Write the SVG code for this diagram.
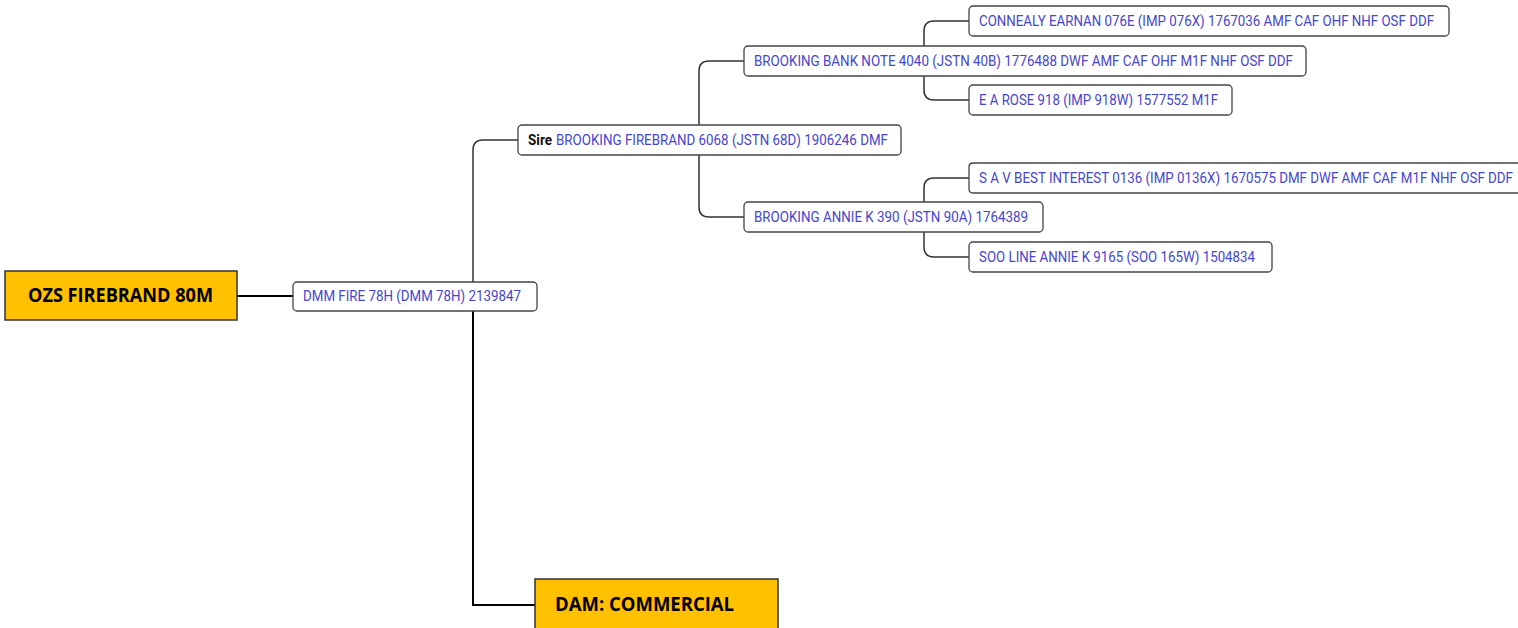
<svg xmlns="http://www.w3.org/2000/svg" width="1518" height="628" viewBox="0 0 1518 628">
<style>
.box{fill:#ffffff;stroke:#444444;stroke-width:1.3}
.hi{fill:#ffc000;stroke:#333333;stroke-width:1.5}
.t{font-family:Roboto,"Liberation Sans",sans-serif;font-size:14.5px;fill:#4646cc}
.b{font-family:"Open Sans","Liberation Sans",sans-serif;font-size:19px;font-weight:bold;fill:#000000}
.sire{font-family:Roboto,"Liberation Sans",sans-serif;font-size:14.5px;font-weight:bold;fill:#111111}
.c{fill:none;stroke:#333333;stroke-width:1.5}
.k{fill:none;stroke:#000000;stroke-width:2}
</style>
<rect x="0" y="0" width="1518" height="628" fill="#ffffff"/>
<g id="connectors">
<path class="k" d="M237,296 H293"/>
<path class="c" d="M473,282 V150 Q473,140 483,140 H518"/>
<path class="k" d="M473,311 V605 H535"/>
<path class="c" d="M699,125 V71 Q699,61 709,61 H744"/>
<path class="c" d="M699,155 V207 Q699,217 709,217 H744"/>
<path class="c" d="M924,46 V31 Q924,21 934,21 H969"/>
<path class="c" d="M924,76 V90 Q924,100 934,100 H969"/>
<path class="c" d="M924,202 V188 Q924,178 934,178 H969"/>
<path class="c" d="M924,232 V247 Q924,257 934,257 H969"/>
</g>
<g id="ozs">
<rect class="hi" x="5" y="271" width="232" height="49"/>
<text class="b" x="28" y="302" textLength="185" lengthAdjust="spacingAndGlyphs">OZS FIREBRAND 80M</text>
</g>
<g id="dmm">
<rect class="box" x="293" y="282" width="244" height="29" rx="4"/>
<text class="t" x="303" y="301" textLength="218" lengthAdjust="spacingAndGlyphs">DMM FIRE 78H (DMM 78H) 2139847</text>
</g>
<g id="sire">
<rect class="box" x="518" y="125" width="383" height="30" rx="4"/>
<text class="sire" x="528" y="144.5" textLength="24" lengthAdjust="spacingAndGlyphs">Sire</text>
<text class="t" x="556" y="144.5" textLength="332" lengthAdjust="spacingAndGlyphs">BROOKING FIREBRAND 6068 (JSTN 68D) 1906246 DMF</text>
</g>
<g id="banknote">
<rect class="box" x="744" y="46" width="562" height="30" rx="4"/>
<text class="t" x="754" y="65.5" textLength="539" lengthAdjust="spacingAndGlyphs">BROOKING BANK NOTE 4040 (JSTN 40B) 1776488 DWF AMF CAF OHF M1F NHF OSF DDF</text>
</g>
<g id="connealy">
<rect class="box" x="969" y="6" width="480" height="30" rx="4"/>
<text class="t" x="979" y="25.5" textLength="455" lengthAdjust="spacingAndGlyphs">CONNEALY EARNAN 076E (IMP 076X) 1767036 AMF CAF OHF NHF OSF DDF</text>
</g>
<g id="earose">
<rect class="box" x="969" y="85" width="263" height="30" rx="4"/>
<text class="t" x="979" y="104.5" textLength="239" lengthAdjust="spacingAndGlyphs">E A ROSE 918 (IMP 918W) 1577552 M1F</text>
</g>
<g id="annie">
<rect class="box" x="744" y="202" width="299" height="30" rx="4"/>
<text class="t" x="754" y="221.5" textLength="274" lengthAdjust="spacingAndGlyphs">BROOKING ANNIE K 390 (JSTN 90A) 1764389</text>
</g>
<g id="sav">
<path class="box" d="M1518,163 H973 Q969,163 969,167 V189 Q969,193 973,193 H1518"/>
<text class="t" x="979" y="182.5" textLength="534" lengthAdjust="spacingAndGlyphs">S A V BEST INTEREST 0136 (IMP 0136X) 1670575 DMF DWF AMF CAF M1F NHF OSF DDF</text>
</g>
<g id="sooline">
<rect class="box" x="969" y="242" width="303" height="30" rx="4"/>
<text class="t" x="979" y="261.5" textLength="276" lengthAdjust="spacingAndGlyphs">SOO LINE ANNIE K 9165 (SOO 165W) 1504834</text>
</g>
<g id="dam">
<rect class="hi" x="535" y="579" width="243" height="60"/>
<text class="b" x="555" y="611" textLength="179" lengthAdjust="spacingAndGlyphs">DAM: COMMERCIAL</text>
</g>
</svg>
